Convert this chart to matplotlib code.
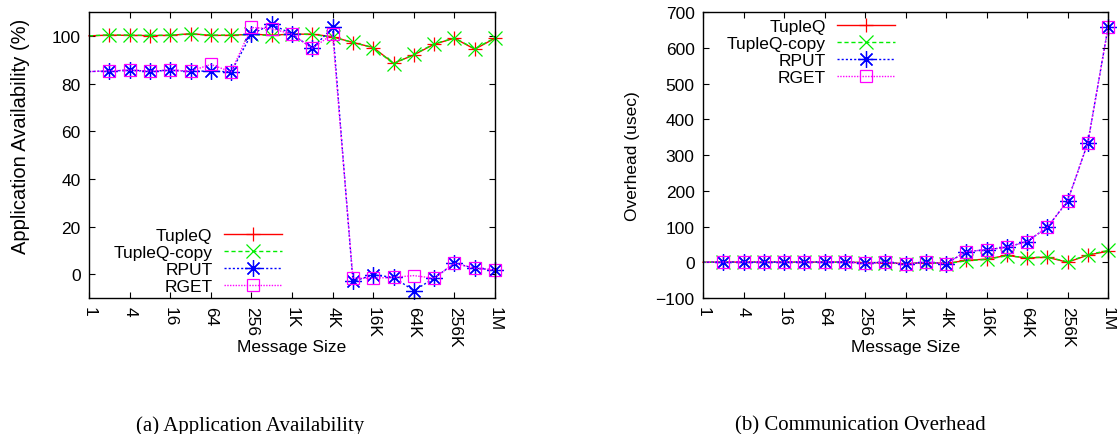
import numpy as np
import matplotlib
matplotlib.use('Agg')
import matplotlib.pyplot as plt

plt.rcParams['font.family'] = ['Liberation Sans', 'DejaVu Sans']

# message sizes 2^0 .. 2^20 (first point has no marker, as in gnuplot output)
sizes = [2 ** k for k in range(21)]
tick_pos = [2 ** k for k in range(0, 21, 2)]
tick_labels = ['1', '4', '16', '64', '256', '1K', '4K', '16K', '64K', '256K', '1M']

# (a) application availability (%)
avail_tupleq = [100, 100.3, 100.2, 100.1, 100.2, 100.9, 100.2, 100.2, 100.7, 100.3,
                100.7, 100.7, 99.6, 97.2, 95.1, 88.5, 92.0, 96.5, 99.0, 94.4, 99.0]
avail_tupleq_copy = [100, 100.4, 100.3, 100.2, 100.3, 100.8, 100.3, 100.3, 100.6, 100.1,
                     100.8, 100.6, 99.4, 97.3, 95.0, 88.3, 92.2, 96.6, 99.1, 94.6, 99.2]
avail_rput = [85, 85.3, 85.5, 85.2, 85.5, 85.2, 85.2, 84.9, 100.7, 104.9,
              100.7, 94.8, 103.5, -3.0, -0.3, -1.3, -6.9, -1.7, 4.6, 2.5, 1.8]
avail_rget = [85, 85.3, 85.6, 85.2, 85.6, 85.2, 88.0, 84.9, 103.5, 103.0,
              100.7, 94.8, 100.7, -1.7, -1.7, -1.3, -0.6, -1.7, 4.6, 2.5, 1.8]

# (b) communication overhead (usec)
ovh_tupleq = [0, 0.5, 0.3, 0.2, 0.4, 0.3, 0.2, 0.3, -1, -1,
              -4, -1, -3, 5, 9, 19, 12, 14, 0, 20, 31]
ovh_tupleq_copy = [0, 0.4, 0.2, 0.3, 0.3, 0.2, 0.3, 0.2, -1, -1,
                   -5, -1, -4, 4, 8, 18, 13, 15, 1, 21, 33]
ovh_rput = [0, 1, 1, 1, 1, 1, 1, 1, -2, 0,
            -5, 0, -4, 30, 35, 42, 58, 98, 171, 334, 657]
ovh_rget = [0, 1, 1, 1, 1, 1, 1, 1, -3, 0,
            -6, 0, -4, 30, 35, 42, 58, 98, 171, 334, 657]

styles = [
    ('TupleQ', '#ff0000', '+', 10, None),
    ('TupleQ-copy', '#00ee00', 'x', 10, (3, 2)),
    ('RPUT', '#0000ff', (8, 2, 0), 12, (1.5, 1.5)),
    ('RGET', '#ff00ff', 's', 9, (1, 1)),
]

fig = plt.figure(figsize=(11.17, 4.35), dpi=100)
ax1 = fig.add_axes([0.0797, 0.3126, 0.3635, 0.6575])
ax2 = fig.add_axes([0.6294, 0.3126, 0.3626, 0.6575])


def draw(ax, series):
    for (name, color, marker, ms, dashes), vals in zip(styles, series):
        kw = dict(color=color, marker=marker, ms=ms, mew=0.9, lw=1.0,
                  markevery=slice(1, None), label=name, clip_on=False)
        if marker == 's':
            kw['mfc'] = 'none'
        line, = ax.plot(sizes, vals, **kw)
        if dashes is not None:
            line.set_dashes(dashes)
    ax.set_xscale('log', base=2)
    ax.set_xlim(1, 2 ** 20)
    ax.set_xticks(tick_pos)
    ax.set_xticklabels(tick_labels, rotation=-90, va='top', ha='center')
    ax.minorticks_off()
    ax.tick_params(direction='in', top=True, right=True, length=4, width=0.8,
                   labelsize=12.5)
    ax.tick_params(axis='x', pad=6)
    ax.tick_params(axis='y', pad=6)
    ax.set_xlabel('Message Size', fontsize=12.5)
    ax.xaxis.set_label_coords(0.5, -0.145)
    for s in ax.spines.values():
        s.set_linewidth(1.0)


draw(ax1, [avail_tupleq, avail_tupleq_copy, avail_rput, avail_rget])
ax1.set_ylim(-10, 110)
ax1.set_yticks(range(0, 101, 20))
ax1.set_ylabel('Application Availability (%)', fontsize=14.5)
ax1.yaxis.set_label_coords(-0.145, 0.57)
ax1.legend(loc='lower right', bbox_to_anchor=(0.475, 0.015), frameon=False,
           markerfirst=False, handlelength=3.35, handletextpad=0.65,
           labelspacing=0.1, borderpad=0, borderaxespad=0, fontsize=12.5)

draw(ax2, [ovh_tupleq, ovh_tupleq_copy, ovh_rput, ovh_rget])
ax2.set_ylim(-100, 700)
ax2.set_yticks(range(-100, 701, 100))
ax2.set_ylabel('Overhead (usec)', fontsize=12.5)
ax2.yaxis.set_label_coords(-0.155, 0.5)
ax2.legend(loc='upper right', bbox_to_anchor=(0.474, 0.975), frameon=False,
           markerfirst=False, handlelength=3.35, handletextpad=0.65,
           labelspacing=0.1, borderpad=0, borderaxespad=0, fontsize=12.5)

fig.text(250 / 1117, 1 - 426 / 435, '(a) Application Availability',
         family='Liberation Serif', fontsize=15, ha='center', va='center')
fig.text(860 / 1117, 1 - 426 / 435, '(b) Communication Overhead',
         family='Liberation Serif', fontsize=15, ha='center', va='center')

fig.savefig('out.png', dpi=100)
